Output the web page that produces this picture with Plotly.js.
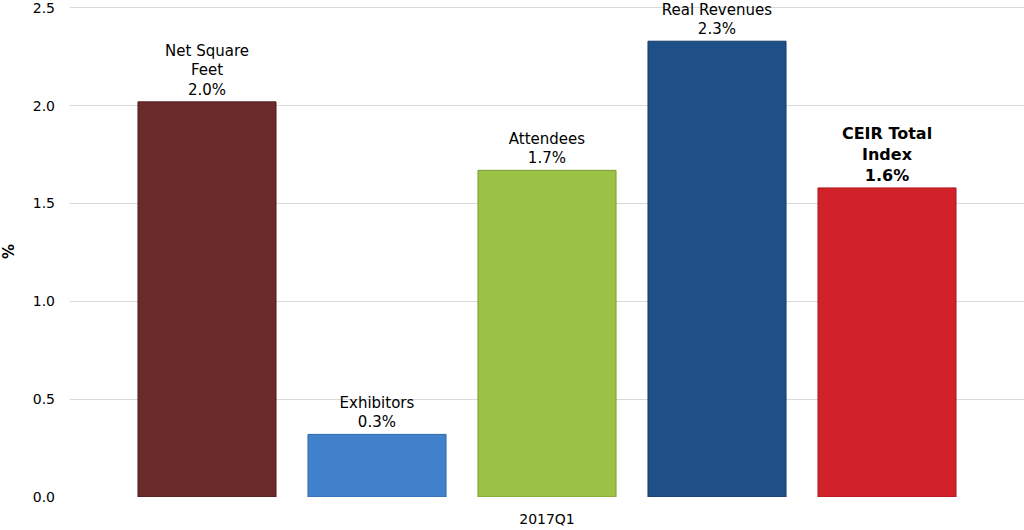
<!DOCTYPE html>
<html>
<head>
<meta charset="utf-8">
<script src="https://cdn.plot.ly/plotly-3.0.1.min.js"></script>
<style>
  html, body { margin: 0; padding: 0; background: #fff; }
  #chart { width: 1024px; height: 530px; }
</style>
</head>
<body>
<div id="chart"></div>
<script>
'use strict';

const quarter = ['2017Q1'];
const names = ['Net Square<br>Feet', 'Exhibitors', 'Attendees', 'Real Revenues', 'CEIR Total<br>Index'];
const values = [2.02, 0.32, 1.67, 2.33, 1.58];
const labels = ['2.0%', '0.3%', '1.7%', '2.3%', '1.6%'];
const colors = ['#6b2b2b', '#4282cc', '#9cc245', '#1f4f87', '#d1222a'];
const edges = ['#4f1f1f', '#2f66a8', '#7a9b33', '#173c68', '#a81a20'];

const traces = names.map((name, i) => {
    const bold = i === 4;
    return {
        type: 'bar',
        x: quarter,
        y: [values[i]],
        name: name,
        text: [bold ? `<b>${name}<br>${labels[i]}</b>` : `${name}<br>${labels[i]}`],
        textposition: 'outside',
        cliponaxis: false,
        textfont: { family: 'DejaVu Sans, Verdana, sans-serif', size: bold ? 16 : 15, color: '#000' },
        marker: { color: colors[i], line: { color: edges[i], width: 1 } },
        hoverinfo: 'skip'
    };
});

const layout = {
    width: 1024,
    height: 530,
    margin: { l: 70, r: 0, t: 6, b: 33 },
    paper_bgcolor: '#fff',
    plot_bgcolor: '#fff',
    showlegend: false,
    barmode: 'group',
    bargap: 0.109,
    bargroupgap: 0.188,
    font: { family: 'DejaVu Sans, Verdana, sans-serif', size: 14, color: '#000' },
    xaxis: {
        type: 'category',
        showgrid: false,
        zeroline: false,
        showline: false,
        ticks: '',
        ticklabelstandoff: 12,
        tickfont: { size: 14 }
    },
    yaxis: {
        // a little headroom above 2.5 so the top gridline is not clipped
        range: [0, 2.51],
        tickvals: [0, 0.5, 1, 1.5, 2, 2.5],
        tickformat: '.1f',
        showgrid: true,
        gridcolor: '#d9d9d9',
        gridwidth: 1,
        zeroline: false,
        showline: false,
        ticks: '',
        ticklabelstandoff: 14,
        ticklabeloverflow: 'allow',
        tickfont: { size: 14 },
        title: { text: '<b>%</b>', font: { size: 15 }, standoff: 19 }
    }
};

Plotly.newPlot('chart', traces, layout, { staticPlot: true, displayModeBar: false });
</script>
</body>
</html>
